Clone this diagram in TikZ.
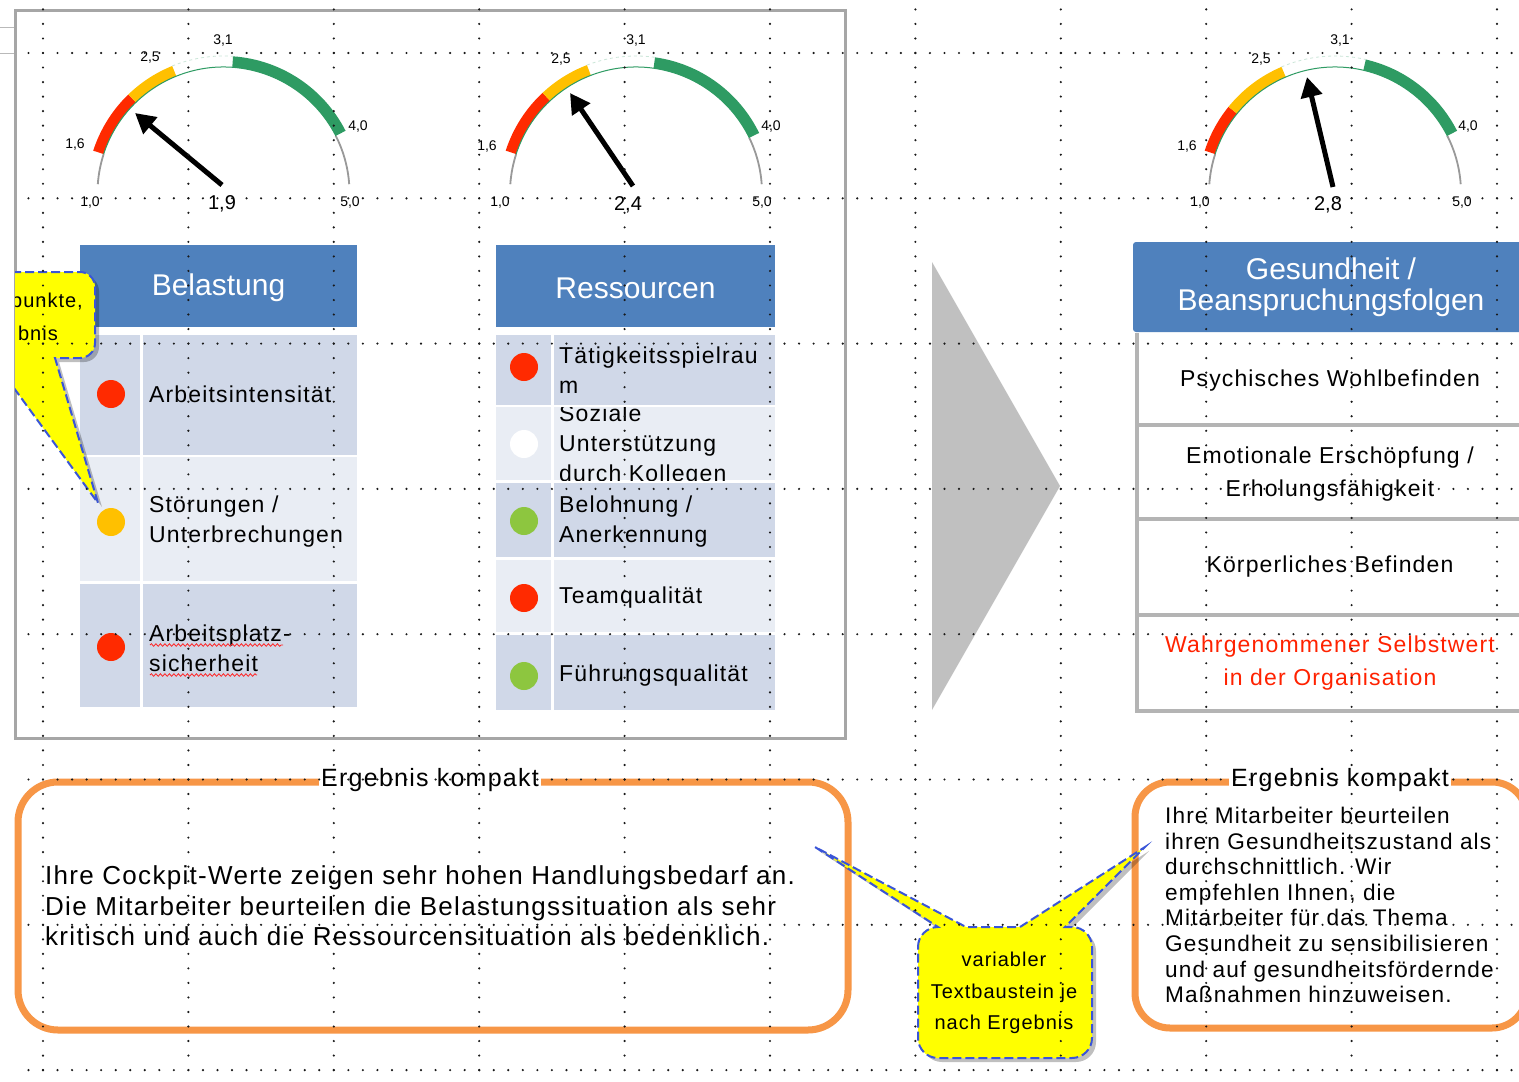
\documentclass[tikz,border=0pt]{standalone}
\usepackage{fontspec}
\setmainfont{Liberation Sans}[LetterSpace=5]
\newfontfamily\hdfont{Liberation Sans}
\usetikzlibrary{arrows.meta,decorations.pathmorphing}
\definecolor{hdblue}{HTML}{4F81BD}
\definecolor{rowdark}{HTML}{D0D8E8}
\definecolor{rowlight}{HTML}{E9EDF4}
\definecolor{gred}{HTML}{FF2A00}
\definecolor{gyellow}{HTML}{FFC000}
\definecolor{ggreen}{HTML}{2E9B63}
\definecolor{dotgreen}{HTML}{8DC63F}
\definecolor{orng}{HTML}{F79646}
\definecolor{cblue}{HTML}{3A55D8}
\definecolor{cyellow}{HTML}{FFFF00}
\definecolor{trigray}{HTML}{C0C0C0}
\definecolor{boxgray}{HTML}{A6A6A6}
\definecolor{txtred}{HTML}{FF2200}
\definecolor{sepgray}{HTML}{B4B4B4}

\newcommand\mygauge[5]{%
\begin{scope}[shift={(#1pt,-193pt)}]
\draw[gaugegray] (176:126pt) arc[start angle=176,end angle=162,radius=126pt];
\draw[gaugegray] (#5:126pt) arc[start angle=#5,end angle=4,radius=126pt];
\fill[gred] (162:126pt) arc[start angle=162,end angle=#2,radius=126pt] -- (#2:137pt) arc[start angle=#2,end angle=162,radius=137pt] -- cycle;
\fill[gyellow] (#2:126pt) arc[start angle=#2,end angle=#3,radius=126pt] -- (#3:137pt) arc[start angle=#3,end angle=#2,radius=137pt] -- cycle;
\fill[ggreen] (#4:126pt) arc[start angle=#4,end angle=#5,radius=126pt] -- (#5:137pt) arc[start angle=#5,end angle=#4,radius=137pt] -- cycle;
\draw[ggreen!25, line width=0.8pt, dashed] (#3:137pt) arc[start angle=#3,end angle=#4,radius=137pt];
\draw[ggreen, line width=1pt] (162:126pt) arc[start angle=162,end angle=#5,radius=126pt];
\end{scope}}

\def\calB{(918,-947) arc[start angle=180,end angle=90,radius=20pt] -- (815,-847) -- (966,-927) -- (1020,-927) -- (1145,-847) -- (1065,-927) -- (1072,-927) arc[start angle=90,end angle=0,radius=20pt] -- (1092,-1038) arc[start angle=0,end angle=-90,radius=20pt] -- (938,-1058) arc[start angle=-90,end angle=-180,radius=20pt] -- cycle}
\def\calA{(-40,-272) -- (80,-272) arc[start angle=90,end angle=0,radius=15pt] -- (95,-343) arc[start angle=0,end angle=-90,radius=15pt] -- (55,-358) -- (98,-503) -- (-8,-358) -- (-40,-358) -- cycle}

\begin{document}
\begin{tikzpicture}[x=1pt,y=1pt,
  gaugegray/.style={draw=gray!80, line width=1.8pt},
  tabtxt/.style={font=\fontsize{23}{30}\selectfont, anchor=west, inner sep=0pt, align=left},
  hdr/.style={font=\hdfont\fontsize{30}{31}\selectfont, text=white, inner sep=0pt, align=center},
  rtxt/.style={font=\fontsize{23}{32.5}\selectfont, inner sep=0pt, align=center},
  dotn/.style={circle, minimum size=28pt, inner sep=0pt},
  smalllab/.style={font=\hdfont\fontsize{14}{14}\selectfont, inner sep=0pt},
  vallab/.style={font=\hdfont\fontsize{20}{20}\selectfont, inner sep=0pt},
  needle/.style={line width=5pt, -{Triangle[length=20pt,width=21pt]}},
  gridv/.style={line width=2.4pt, line cap=round, dash pattern=on 0pt off 14.53pt, black!90},
  gridh/.style={line width=2.4pt, line cap=round, dash pattern=on 0pt off 14.54pt, black!90},
  sepline/.style={draw=sepgray, line width=4.5pt},
  orangebox/.style={draw=orng, line width=7pt},
  titlelab/.style={font=\fontsize{25}{25}\selectfont, fill=white, inner sep=2pt},
  calloutline/.style={draw=cblue, line width=2pt, dash pattern=on 9pt off 4pt},
  calltxt/.style={font=\fontsize{20}{31.5}\selectfont, inner sep=0pt, align=center},
  squiggle/.style={draw=red!85, line width=0.8pt, decorate, decoration={snake, amplitude=1.3pt, segment length=4.5pt}}
]
\useasboundingbox (0,0) rectangle (1519,-1082);
\fill[white] (0,0) rectangle (1519,-1082);

% thin lines top-left
\draw[gray!55, line width=1pt] (0,-27) -- (15,-27);
\draw[gray!55, line width=1pt] (0,-53) -- (15,-53);

% left gray box
\draw[boxgray, line width=3pt] (15,-10) rectangle (845,-738);

% gauges
\mygauge{223.5}{134}{112}{86}{27}
\mygauge{636}{133}{111}{82}{26}
\mygauge{1335}{141}{113}{77}{27}

% gauge labels
\node[smalllab] (g1a) at (75,-145) {1,6};
\node[smalllab] (g1b) at (150,-58) {2,5};
\node[smalllab] (g1c) at (223,-41) {3,1};
\node[smalllab] (g1d) at (358,-127) {4,0};
\node[smalllab] (g1e) at (90,-203) {1,0};
\node[smalllab] (g1f) at (350,-203) {5,0};
\node[vallab] (g1v) at (222,-204) {1,9};
\node[smalllab] (g2a) at (487,-147) {1,6};
\node[smalllab] (g2b) at (561,-60) {2,5};
\node[smalllab] (g2c) at (636,-41) {3,1};
\node[smalllab] (g2d) at (771,-127) {4,0};
\node[smalllab] (g2e) at (500,-203) {1,0};
\node[smalllab] (g2f) at (762,-203) {5,0};
\node[vallab] (g2v) at (628,-205) {2,4};
\node[smalllab] (g3a) at (1187,-147) {1,6};
\node[smalllab] (g3b) at (1261,-60) {2,5};
\node[smalllab] (g3c) at (1340,-41) {3,1};
\node[smalllab] (g3d) at (1468,-127) {4,0};
\node[smalllab] (g3e) at (1200,-203) {1,0};
\node[smalllab] (g3f) at (1462,-203) {5,0};
\node[vallab] (g3v) at (1328,-205) {2,8};

% needles
\coordinate (n1s) at (222,-185); \coordinate (n1e) at (135,-113);
\coordinate (n2s) at (633,-186); \coordinate (n2e) at (570,-93);
\coordinate (n3s) at (1333,-187); \coordinate (n3e) at (1307,-77);
\draw[needle] (n1s) -- (n1e);
\draw[needle] (n2s) -- (n2e);
\draw[needle] (n3s) -- (n3e);

% Belastung table
\fill[hdblue] (80,-245) rectangle (357,-327);
\node[hdr] (bel) at (218.5,-288) {Belastung};
\fill[rowdark] (80,-335) rectangle (140,-455);
\fill[rowdark] (143,-335) rectangle (357,-455);
\fill[rowlight] (80,-457) rectangle (140,-581);
\fill[rowlight] (143,-457) rectangle (357,-581);
\fill[rowdark] (80,-584) rectangle (140,-707);
\fill[rowdark] (143,-584) rectangle (357,-707);
\node[dotn, fill=gred] (bd1) at (111,-394) {};
\node[dotn, fill=gyellow] (bd2) at (111,-522) {};
\node[dotn, fill=gred] (bd3) at (111,-647) {};
\node[tabtxt] (bt1) at (149,-394) {Arbeitsintensität};
\node[tabtxt] (bt2) at (149,-522) {Störungen /\\Unterbrechungen};
\node[tabtxt] (bt3) at (149,-648) {Arbeitsplatz-\\sicherheit};
\draw[squiggle] (150,-645) -- (283,-645);
\draw[squiggle] (150,-675) -- (257,-675);

% left callout (on top of the table)
\begin{scope}
\clip (15,0) rectangle (1519,-1082);
\fill[black, opacity=0.25, shift={(4pt,-4pt)}] \calA;
\fill[cyellow] \calA;
\draw[calloutline] \calA;
\node[calltxt, anchor=east] (cala) at (83,-302) {punkte,};
\node[calltxt, anchor=east] (calb) at (58,-333) {bnis};
\end{scope}

% Ressourcen table
\fill[hdblue] (496,-245) rectangle (775,-327);
\node[hdr] (res) at (635.5,-288) {Ressourcen};
\fill[rowdark] (496,-335) rectangle (551,-405);
\fill[rowdark] (554,-335) rectangle (775,-405);
\fill[rowlight] (496,-407) rectangle (551,-480);
\fill[rowlight] (554,-407) rectangle (775,-480);
\fill[rowdark] (496,-483) rectangle (551,-557);
\fill[rowdark] (554,-483) rectangle (775,-557);
\fill[rowlight] (496,-560) rectangle (551,-632);
\fill[rowlight] (554,-560) rectangle (775,-632);
\fill[rowdark] (496,-635) rectangle (551,-710);
\fill[rowdark] (554,-635) rectangle (775,-710);
\node[dotn, fill=gred] (rd1) at (524,-367) {};
\node[dotn, fill=white] (rd2) at (524,-444) {};
\node[dotn, fill=dotgreen] (rd3) at (524,-521) {};
\node[dotn, fill=gred] (rd4) at (524,-598) {};
\node[dotn, fill=dotgreen] (rd5) at (524,-676) {};
\node[tabtxt] (rt1) at (559,-370) {Tätigkeitsspielrau\\m};
\begin{scope}
\clip (554,-407) rectangle (775,-480);
\node[tabtxt] (rt2) at (559,-446) {Soziale\\Unterstützung\\durch Kollegen};
\end{scope}
\node[tabtxt] (rt3) at (559,-522) {Belohnung /\\Anerkennung};
\node[tabtxt] (rt4) at (559,-598) {Teamqualität};
\node[tabtxt] (rt5) at (559,-676) {Führungsqualität};

% big grey arrow
\fill[trigray] (932,-262) -- (1060,-486) -- (932,-710) -- cycle;

% right table
\fill[hdblue, rounded corners=3pt] (1133,-242) rectangle (1540,-332);
\node[hdr] (ges) at (1331,-287) {Gesundheit /\\Beanspruchungsfolgen};
\draw[sepline] (1137,-333) -- (1137,-713);
\foreach \yy in {425,519,615,711} \draw[sepline] (1135,-\yy) -- (1525,-\yy);
\node[rtxt] (p1) at (1330,-381) {Psychisches Wohlbefinden};
\node[rtxt] (p2) at (1330,-474) {Emotionale Erschöpfung /\\Erholungsfähigkeit};
\node[rtxt] (p3) at (1330,-567) {Körperliches Befinden};
\node[rtxt, text=txtred] (p4) at (1330,-663) {Wahrgenommener Selbstwert\\in der Organisation};

% bottom orange boxes
\draw[orangebox, rounded corners=40pt] (18,-782) rectangle (848,-1030);
\node[titlelab] (e1) at (430,-780) {Ergebnis kompakt};
\node[font=\fontsize{26}{30.5}\selectfont, anchor=west, inner sep=0pt, align=left] (e1t) at (45,-906)
 {Ihre Cockpit-Werte zeigen sehr hohen Handlungsbedarf an.\\Die Mitarbeiter beurteilen die Belastungssituation als sehr\\kritisch und auch die Ressourcensituation als bedenklich.};
\draw[orangebox, rounded corners=35pt] (1135,-782) rectangle (1527,-1028);
\node[titlelab] (e2) at (1340,-780) {Ergebnis kompakt};
\node[font=\fontsize{22.6}{25.6}\selectfont, anchor=west, inner sep=0pt, align=left] (e2t) at (1165,-905)
 {Ihre Mitarbeiter beurteilen\\ihren Gesundheitszustand als\\durchschnittlich. Wir\\empfehlen Ihnen, die\\Mitarbeiter für das Thema\\Gesundheit zu sensibilisieren\\und auf gesundheitsfördernde\\Maßnahmen hinzuweisen.};

% bottom callout
\fill[black, opacity=0.25, shift={(4pt,-4pt)}] \calB;
\fill[cyellow] \calB;
\draw[calloutline] \calB;
\node[calltxt] (calc) at (1004,-993) {variabler\\Textbaustein je\\nach Ergebnis};

% dotted grid on top
\foreach \k in {0,...,10} \draw[gridv] ({43+145.4*\k},-9.4) -- ({43+145.4*\k},-1080);
\foreach \j in {0,...,7} \draw[gridh] (28.46,{-53-145.3*\j}) -- (1519,{-53-145.3*\j});
\end{tikzpicture}
\end{document}
